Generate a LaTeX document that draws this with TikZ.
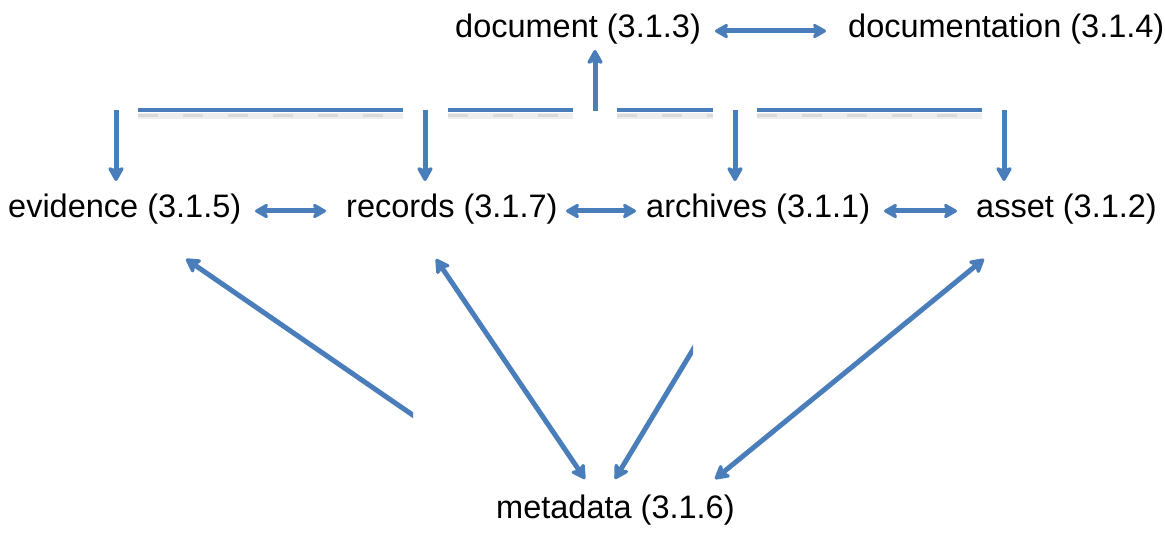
\documentclass[tikz,border=0pt]{standalone}
\usepackage{fontspec}
\setmainfont{Liberation Sans}
\usetikzlibrary{arrows.meta}
\definecolor{linkblue}{RGB}{74,126,187}
\begin{document}
\begin{tikzpicture}[x=1pt,y=-1pt,
  term/.style={anchor=base west, inner sep=0pt, font=\fontsize{32.5}{38}\selectfont},
  link/.style={draw=linkblue, line width=5pt},
  bar/.style={draw=linkblue, line width=4.5pt},
  barshade/.style={draw=black!7, line width=6pt},
  bardash/.style={draw=black!15, line width=3pt, dash pattern=on 20pt off 25pt},
  down/.style={link, -{Stealth[length=17pt,width=19pt,inset=4pt,round]}},
  diag/.style={link, {Stealth[length=17pt,width=19pt,inset=4pt,round]}-{Stealth[length=17pt,width=19pt,inset=4pt,round]}},
  diagend/.style={link, -{Stealth[length=17pt,width=19pt,inset=4pt,round]}},
  pair/.style={link, {Stealth[length=16pt,width=18pt,inset=4pt,round]}-{Stealth[length=16pt,width=18pt,inset=4pt,round]}}
]
\useasboundingbox (0,0) rectangle (1165,534);

% terms
\node[term] (doc)   at (455,38)  {document (3.1.3)};
\node[term] (docn)  at (848,38)  {documentation (3.1.4)};
\node[term] (evid)  at (8,218)   {evidence (3.1.5)};
\node[term] (rec)   at (346,218) {records (3.1.7)};
\node[term] (arch)  at (646,218) {archives (3.1.1)};
\node[term] (asset) at (976,218) {asset (3.1.2)};
\node[term] (meta)  at (496,518) {metadata (3.1.6)};

% connector end points
\coordinate (doc-r)   at (715,31);
\coordinate (docn-l)  at (826,31);
\coordinate (evid-r)  at (255,211);
\coordinate (rec-l)   at (326,211);
\coordinate (rec-r)   at (566,211);
\coordinate (arch-l)  at (636,211);
\coordinate (arch-r)  at (884,211);
\coordinate (asset-l) at (957,211);

\coordinate (doc-b)   at (595,50);
\coordinate (hub)     at (595,111);

\coordinate (evid-t)  at (116,181);
\coordinate (rec-t)   at (425,181);
\coordinate (arch-t)  at (735,181);
\coordinate (asset-t) at (1004,181);
\coordinate (evid-s)  at (116,110);
\coordinate (rec-s)   at (425,110);
\coordinate (arch-s)  at (735,110);
\coordinate (asset-s) at (1004,110);

\coordinate (b1a) at (138,110); \coordinate (b1b) at (403,110);
\coordinate (b2a) at (448,110); \coordinate (b2b) at (573,110);
\coordinate (b3a) at (617,110); \coordinate (b3b) at (713,110);
\coordinate (b4a) at (757,110); \coordinate (b4b) at (982,110);

\coordinate (evid-d)  at (186,259);
\coordinate (rec-d)   at (436,259);
\coordinate (asset-d) at (984,259);
\coordinate (meta-a)  at (585,479);
\coordinate (meta-b)  at (615,479);
\coordinate (meta-c)  at (715,479);
\coordinate (cut-a)   at (433,429);
\coordinate (cut-c)   at (703,333);

% soft shadow under the bar
\foreach \a/\b in {b1a/b1b, b2a/b2b, b3a/b3b, b4a/b4b} {
  \path[barshade] ([yshift=-6pt]\a) -- ([yshift=-6pt]\b);
  \path[bardash]  ([yshift=-6pt]\a) -- ([yshift=-6pt]\b);
}

% bar segments
\foreach \a/\b in {b1a/b1b, b2a/b2b, b3a/b3b, b4a/b4b}
  \path[bar] (\a) -- (\b);

% up to document, down to the four terms
\path[down] (hub) -- (doc-b);
\path[down] (evid-s) -- (evid-t);
\path[down] (rec-s) -- (rec-t);
\path[down] (arch-s) -- (arch-t);
\path[down] (asset-s) -- (asset-t);

% horizontal pairs
\path[pair] (doc-r) -- (docn-l);
\path[pair] (evid-r) -- (rec-l);
\path[pair] (rec-r) -- (arch-l);
\path[pair] (arch-r) -- (asset-l);

% links to metadata
\begin{scope}
  \clip (0,0) rectangle (413,534);
  \path[diagend] (cut-a) -- (evid-d);
\end{scope}
\path[diag] (rec-d) -- (meta-a);
\begin{scope}
  \clip (0,0) rectangle (693,534);
  \path[diagend] (cut-c) -- (meta-b);
\end{scope}
\path[diag] (asset-d) -- (meta-c);
\end{tikzpicture}
\end{document}
